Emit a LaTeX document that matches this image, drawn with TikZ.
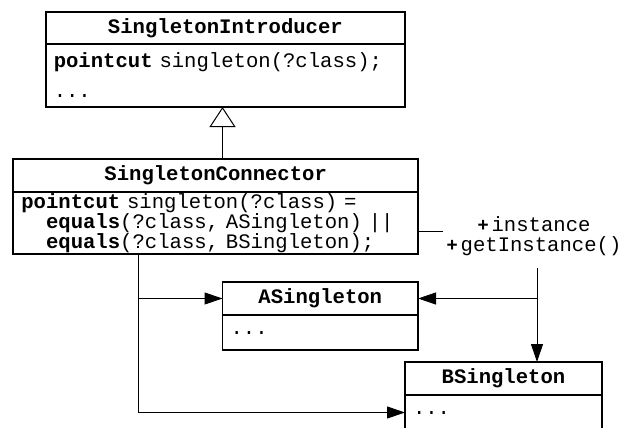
\documentclass[tikz,border=0pt]{standalone}
\usepackage{fontspec}
\setmainfont{Liberation Mono}
\setsansfont{Liberation Sans}
\usepackage{tikz}
\usetikzlibrary{arrows.meta,positioning}
\tikzstyle{chead}=[draw, line width=1.8pt, font=\fontsize{20.6}{24}\selectfont\bfseries, minimum height=33pt, inner sep=0pt, outer sep=0pt]
\tikzstyle{cbody}=[draw, line width=1.8pt, align=left, inner xsep=8pt, inner ysep=0pt, outer sep=0pt]
\tikzstyle{assoc}=[line width=1pt, -{Triangle[length=18pt,width=12pt]}]
\tikzstyle{inherit}=[line width=1pt, -{Triangle[open,length=20pt,width=26pt,line width=1pt]}]
\newcommand{\kw}[1]{\textbf{#1}}
\newcommand{\pl}{{\sffamily\bfseries\fontsize{19}{20}\selectfont +}\hspace{3pt}}

\begin{document}
\begin{tikzpicture}[x=1pt,y=-1pt]
\clip (0,0) rectangle (632,428);
% classes
\node[chead, minimum width=359.3pt, minimum height=32pt] (ihead) at (225.4,28) {SingletonIntroducer};
\node[cbody, text width=343.3pt, minimum height=63pt, below=0pt of ihead, font=\fontsize{20.6}{30}\selectfont] (ibody)
  {\kw{pointcut} singleton(?class);\\...};
\node[chead, minimum width=404.7pt] (chead) at (215.7,175.5) {SingletonConnector};
\node[cbody, text width=388.7pt, minimum height=62pt, below=0pt of chead, font=\fontsize{20.6}{18.5}\selectfont] (cbody)
  {\kw{pointcut} singleton(?class) =\\
   \hspace*{24.7pt}\kw{equals}(?class, ASingleton) ||\\
   \hspace*{24.7pt}\kw{equals}(?class, BSingleton);};
\node[chead, minimum width=195.5pt] (ahead) at (320.3,298.5) {ASingleton};
\node[cbody, text width=179.5pt, minimum height=35pt, below=0pt of ahead, font=\fontsize{20.6}{24}\selectfont] (abody) {...};
\node[chead, minimum width=197pt] (bhead) at (503.5,378.5) {BSingleton};
\node[cbody, text width=181pt, minimum height=35pt, below=0pt of bhead, font=\fontsize{20.6}{24}\selectfont] (bbody) {...};
% roles
\node[align=center, inner sep=0pt, font=\fontsize{20.6}{20}\selectfont] (roles) at (534,236)
  {\pl instance\\\pl getInstance()};
\coordinate (inh) at (222.5,128);
\coordinate (rend) at (443,231);
\coordinate (rtop) at (537,268);
\coordinate (rfork) at (537,298.5);
\coordinate (lfork) at (138,298.5);
% connectors
\draw[inherit] (chead.north -| inh) -- (ibody.south -| inh);
\draw[line width=1pt] (cbody.east |- rend) -- (rend);
\draw[assoc] (rtop) -- (bhead.north -| rfork);
\draw[assoc] (rfork) -- (ahead.east);
\draw[assoc] (cbody.south -| lfork) |- (ahead.west);
\draw[assoc] (lfork) |- (bbody.west);
\end{tikzpicture}
\end{document}
